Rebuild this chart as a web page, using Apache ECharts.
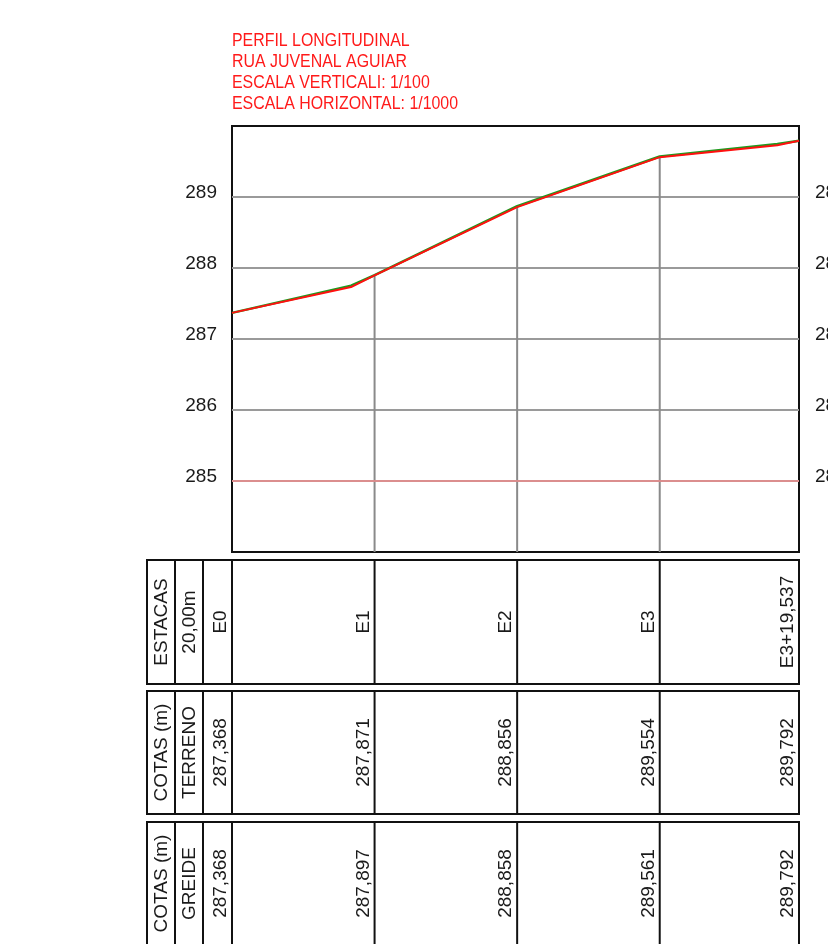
<!DOCTYPE html>
<html>
<head>
<meta charset="utf-8">
<script src="https://cdn.jsdelivr.net/npm/echarts@6/dist/echarts.min.js"></script>
<style>
html,body{margin:0;padding:0;background:#fff;}
#chart{width:828px;height:944px;}
</style>
</head>
<body>
<div id="chart"></div>
<script>
// ---------- DATA ----------
const titleLines = ['PERFIL LONGITUDINAL', 'RUA JUVENAL AGUIAR', 'ESCALA VERTICALI: 1/100', 'ESCALA HORIZONTAL: 1/1000'];
const stationNames = ['E0', 'E1', 'E2', 'E3', 'E3+19,537'];
const stationDist = [0, 20, 40, 60, 79.537];
const terrenoCotas = [287.368, 287.871, 288.856, 289.554, 289.792];
const greideCotas = [287.368, 287.897, 288.858, 289.561, 289.792];
// profile lines (distance m, elevation m)
const greideProfile = [[0, 287.368], [16.7, 287.732], [20, 287.897], [40, 288.858], [60, 289.561], [76.5, 289.73], [79.537, 289.792]];
const terrenoProfile = [[0, 287.368], [16.7, 287.75], [20, 287.9], [40, 288.87], [60, 289.57], [76.5, 289.745], [79.537, 289.792]];
const yTicks = [285, 286, 287, 288, 289];
const yMin = 284, yMax = 290, yStep = 1;
const refLine = 285;
const headers = [['ESTACAS', '20,00m'], ['COTAS (m)', 'TERRENO'], ['COTAS (m)', 'GREIDE']];

// ---------- LAYOUT ----------
const FONT = '"Liberation Sans", Arial, Helvetica, sans-serif';
const plot = {left: 232, top: 126, width: 567, height: 426};
const rows = [{top: 560, height: 124}, {top: 691, height: 123}, {top: 822, height: 123}];
const headLeft = 147, headCols = [147, 175, 203, 232];
const fmt = v => v.toFixed(3).replace('.', ',');
const xMax = stationDist[stationDist.length - 1];

const chart = echarts.init(document.getElementById('chart'), null, {renderer: 'canvas'});

const grids = [Object.assign({show: true, borderColor: '#111', borderWidth: 2, backgroundColor: '#fff', outerBoundsMode: 'none', containLabel: false}, plot)];
rows.forEach(r => grids.push({left: plot.left, width: plot.width, top: r.top, height: r.height, show: true,
  borderColor: '#111', borderWidth: 2, outerBoundsMode: 'none', containLabel: false}));

const xAxes = grids.map((g, i) => ({type: 'value', gridIndex: i, min: 0, max: xMax, show: false}));
const labelStyle = {fontSize: 19, fontFamily: FONT, color: '#1a1a1a', verticalAlign: 'bottom', lineHeight: 8,
  formatter: v => yTicks.indexOf(v) >= 0 ? String(v) : ''};
const yAxes = [
  {type: 'value', gridIndex: 0, position: 'left', min: yMin, max: yMax, interval: yStep,
   axisLine: {show: false}, axisTick: {show: false},
   axisLabel: Object.assign({margin: 15}, labelStyle),
   splitLine: {show: true, showMinLine: false, showMaxLine: false, lineStyle: {color: '#9a9a9a', width: 2}}},
  {type: 'value', gridIndex: 0, position: 'right', min: yMin, max: yMax, interval: yStep,
   axisLine: {show: false}, axisTick: {show: false}, splitLine: {show: false},
   axisLabel: Object.assign({margin: 16, align: 'left'}, labelStyle)}
];
const rowYAxisStart = yAxes.length;
rows.forEach((r, i) => yAxes.push({type: 'value', gridIndex: i + 1, min: 0, max: 1, show: false}));

const rowLabels = [stationNames, terrenoCotas.map(fmt), greideCotas.map(fmt)];

function rowRenderer(labels) {
  return function (params, api) {
    const i = params.dataIndex;
    const x = api.value(0);
    const top = api.coord([x, 1]);
    const bot = api.coord([x, 0]);
    const children = [];
    if (i > 0 && i < labels.length - 1) {
      children.push({type: 'line', shape: {x1: top[0], y1: top[1], x2: bot[0], y2: bot[1]}, style: {stroke: '#111', lineWidth: 2}});
    }
    children.push({type: 'text', x: top[0] - 11, y: (top[1] + bot[1]) / 2, rotation: Math.PI / 2,
      style: {text: labels[i], font: '19px ' + FONT, fill: '#1a1a1a', align: 'center', verticalAlign: 'middle'}});
    return {type: 'group', children: children};
  };
}

const series = [
  {type: 'custom', coordinateSystem: 'cartesian2d', xAxisIndex: 0, yAxisIndex: 0, z: 1, silent: true,
   data: stationDist.map((d, i) => [d, greideCotas[i]]),
   renderItem: function (params, api) {
     const i = params.dataIndex;
     if (i === 0 || i === stationDist.length - 1) return null;
     const p1 = api.coord([api.value(0), yMin]);
     const p2 = api.coord([api.value(0), api.value(1)]);
     return {type: 'line', shape: {x1: p1[0], y1: p1[1], x2: p2[0], y2: p2[1]}, style: {stroke: '#8a8a8a', lineWidth: 2}};
   }},
  {type: 'line', name: 'TERRENO', xAxisIndex: 0, yAxisIndex: 0, z: 3, data: terrenoProfile, symbol: 'none',
   lineStyle: {color: '#1e9a1e', width: 2.5},
   markLine: {silent: true, symbol: 'none', label: {show: false}, data: [{yAxis: refLine}],
     lineStyle: {color: '#f08a8a', type: 'solid', width: 1.5}}},
  {type: 'line', name: 'GREIDE', xAxisIndex: 0, yAxisIndex: 0, z: 4, data: greideProfile, symbol: 'none',
   lineStyle: {color: '#ff1010', width: 2}}
];
rowLabels.forEach((labels, r) => {
  series.push({type: 'custom', coordinateSystem: 'cartesian2d', xAxisIndex: r + 1, yAxisIndex: rowYAxisStart + r, silent: true, z: 5,
    data: stationDist.map(d => [d, 0.5]), renderItem: rowRenderer(labels)});
});

const graphics = [];
titleLines.forEach((t, i) => {
  graphics.push({type: 'text', x: 232, y: 40.5 + i * 21.2, scaleX: 0.86,
    style: {text: t, font: '18.5px ' + FONT, fill: '#ff1a1a', align: 'left', verticalAlign: 'middle'}});
});
rows.forEach((r, ri) => {
  graphics.push({type: 'rect', shape: {x: headLeft, y: r.top, width: plot.left - headLeft, height: r.height},
    style: {fill: 'none', stroke: '#111', lineWidth: 2}});
  [headCols[1], headCols[2]].forEach(cx => graphics.push({type: 'line',
    shape: {x1: cx, y1: r.top, x2: cx, y2: r.top + r.height}, style: {stroke: '#111', lineWidth: 2}}));
  headers[ri].forEach((t, ci) => {
    graphics.push({type: 'text', x: (headCols[ci] + headCols[ci + 1]) / 2 + 1, y: r.top + r.height / 2, rotation: Math.PI / 2,
      style: {text: t, font: '19px ' + FONT, fill: '#1a1a1a', align: 'center', verticalAlign: 'middle'}});
  });
});

chart.setOption({
  animation: false,
  backgroundColor: '#fff',
  grid: grids,
  xAxis: xAxes,
  yAxis: yAxes,
  series: series,
  graphic: graphics
});
</script>
</body>
</html>
